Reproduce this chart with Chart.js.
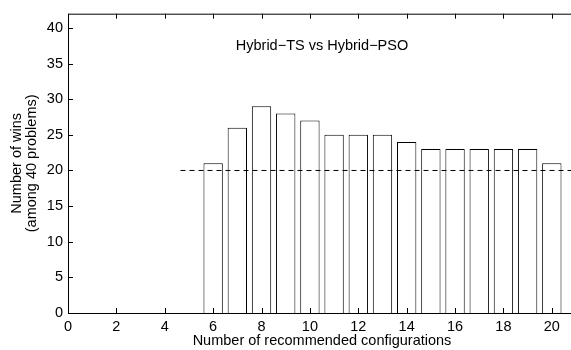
<!DOCTYPE html>
<html>
<head>
<meta charset="utf-8">
<script src="https://cdn.jsdelivr.net/npm/chart.js@4"></script>
<style>
  html, body { margin: 0; padding: 0; background: #fff; overflow: hidden; }
  #wrap { width: 580px; height: 350px; }
</style>
</head>
<body>
<div id="wrap"><canvas id="chart"></canvas></div>
<script>
// data
const configs = [6, 7, 8, 9, 10, 11, 12, 13, 14, 15, 16, 17, 18, 19, 20];
const wins = [21, 26, 29, 28, 27, 25, 25, 25, 24, 23, 23, 23, 23, 23, 21];
const refLineX = [4.65, 21];
const refLineY = [20, 20];
const xTicks = [0, 2, 4, 6, 8, 10, 12, 14, 16, 18, 20];
const yTicks = [0, 5, 10, 15, 20, 25, 30, 35, 40];
const chartTitle = 'Hybrid\u2212TS vs Hybrid\u2212PSO';

const font = 'Liberation Sans, Arial, Helvetica, sans-serif';
const fontSize = 14.5;

const frame = {
    id: 'frame',
    afterDraw(chart) {
        const { ctx, chartArea: a, scales } = chart;
        ctx.save();
        ctx.strokeStyle = '#000';
        ctx.lineWidth = 1;
        ctx.beginPath();
        ctx.moveTo(a.left + 0.5, a.top + 0.5);
        ctx.lineTo(a.right + 0.5, a.top + 0.5);
        ctx.lineTo(a.right + 0.5, a.bottom + 0.5);
        ctx.lineTo(a.left + 0.5, a.bottom + 0.5);
        ctx.closePath();
        ctx.stroke();
        // inward ticks
        ctx.beginPath();
        xTicks.forEach(v => {
            const px = Math.round(scales.x.getPixelForValue(v)) + 0.5;
            ctx.moveTo(px, a.bottom);
            ctx.lineTo(px, a.bottom - 5);
            ctx.moveTo(px, a.top);
            ctx.lineTo(px, a.top + 5);
        });
        yTicks.forEach(v => {
            const py = Math.round(scales.y.getPixelForValue(v)) + 0.5;
            ctx.moveTo(a.left, py);
            ctx.lineTo(a.left + 5, py);
            ctx.moveTo(a.right, py);
            ctx.lineTo(a.right - 5, py);
        });
        ctx.stroke();
        // title inside the plot
        ctx.fillStyle = '#000';
        ctx.font = fontSize + 'px ' + font;
        ctx.textAlign = 'center';
        ctx.textBaseline = 'middle';
        ctx.fillText(chartTitle, (a.left + a.right) / 2, a.top + 32);
        ctx.restore();
    }
};

new Chart(document.getElementById('chart'), {
    type: 'bar',
    data: {
        datasets: [
            {
                type: 'line',
                data: refLineX.map((x, i) => ({ x, y: refLineY[i] })),
                borderColor: '#000',
                borderWidth: 1,
                borderDash: [5, 4],
                pointRadius: 0,
                fill: false,
                order: 0
            },
            {
                type: 'bar',
                data: configs.map((x, i) => ({ x, y: wins[i] })),
                backgroundColor: '#fff',
                borderColor: '#000',
                borderWidth: 1,
                barPercentage: 0.8,
                categoryPercentage: 1,
                order: 1
            }
        ]
    },
    options: {
        responsive: true,
        maintainAspectRatio: false,
        animation: false,
        layout: { padding: { top: 10, right: 4, left: 0, bottom: 0 } },
        plugins: {
            legend: { display: false },
            tooltip: { enabled: false }
        },
        scales: {
            x: {
                type: 'linear',
                min: 0,
                max: 21,
                offset: false,
                grid: { display: false, drawTicks: false },
                border: { display: false },
                afterBuildTicks: s => { s.ticks = xTicks.map(v => ({ value: v })); },
                afterFit: s => { s.height = 37; },
                ticks: {
                    color: '#000',
                    font: { family: font, size: fontSize },
                    padding: 5,
                    maxRotation: 0,
                    autoSkip: false
                },
                title: {
                    display: true,
                    text: 'Number of recommended configurations',
                    color: '#000',
                    font: { family: font, size: fontSize },
                    padding: { top: 0, bottom: 0 }
                }
            },
            y: {
                min: 0,
                max: 42,
                grid: { display: false, drawTicks: false },
                border: { display: false },
                afterBuildTicks: s => { s.ticks = yTicks.map(v => ({ value: v })); },
                afterFit: s => { s.width = 68; },
                ticks: {
                    color: '#000',
                    font: { family: font, size: fontSize },
                    padding: 5
                },
                title: {
                    display: true,
                    text: ['Number of wins', '(among 40 problems)'],
                    color: '#000',
                    font: { family: font, size: fontSize, lineHeight: 1.07 },
                    padding: { top: 9, bottom: 0 }
                }
            }
        }
    },
    plugins: [frame]
});
</script>
</body>
</html>
